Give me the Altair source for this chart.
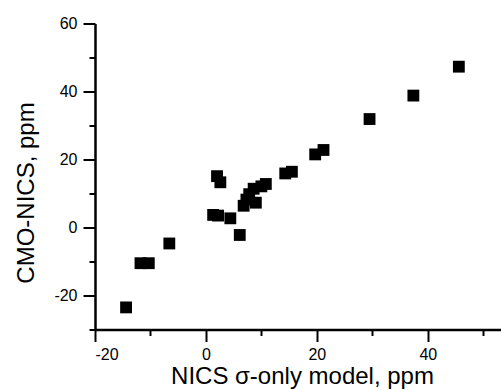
import altair as alt
import pandas as pd

# Data
x_vals = [-14.4, -11.8, -10.3, -6.6, 1.3, 2.2, 2.0, 2.6, 4.4, 6.1, 6.8, 7.3,
          7.8, 8.6, 9.0, 10.0, 10.8, 14.3, 15.5, 19.7, 21.2, 29.5, 37.4, 45.6]
y_vals = [-23.5, -10.5, -10.5, -4.7, 3.7, 3.5, 15.1, 13.3, 2.7, -2.2, 6.4, 8.2,
          9.8, 11.4, 7.3, 12.1, 12.8, 15.9, 16.4, 21.5, 22.8, 31.9, 38.8, 47.3]

x_major = [-20, 0, 20, 40]
x_minor = [-10, 10, 30, 50]
y_major = [-20, 0, 20, 40, 60]
y_minor = [-30, -10, 10, 30, 50]

df = pd.DataFrame({"x": x_vals, "y": y_vals})

W, H = 406, 306
FONT = "Liberation Sans"

xs = alt.Scale(domain=[-20, 53.2], nice=False, zero=False)
ys = alt.Scale(domain=[-30, 60], nice=False, zero=False)

common = dict(domainColor="black", tickColor="black", tickWidth=2,
              labelColor="black", titleColor="black", labelFont=FONT,
              titleFont=FONT, grid=False)

pts = alt.Chart(df).mark_square(size=140, color="black", opacity=1, filled=True).encode(
    x=alt.X("x:Q", scale=xs, axis=alt.Axis(
        orient="bottom", values=x_major, tickSize=12, domainWidth=2.5,
        labelFontSize=16, labelPadding=5, labelExpr="'' + datum.value",
        title="NICS σ-only model, ppm", titleFontSize=24, titleFontWeight="normal",
        titleBaseline="alphabetic", titleY=54, titleX=207, **common)),
    y=alt.Y("y:Q", scale=ys, axis=alt.Axis(
        orient="left", values=y_major, tickSize=12, domainWidth=2.5,
        labelFontSize=16, labelPadding=6, labelExpr="'' + datum.value",
        title="CMO-NICS, ppm", titleFontSize=24, titleFontWeight="normal",
        titleBaseline="alphabetic", titleX=-62, titleY=169, **common)),
)

minor = alt.Chart(df).mark_square(size=1, opacity=0).encode(
    x=alt.X("x:Q", scale=xs, axis=alt.Axis(
        orient="bottom", values=x_minor, tickSize=6, labels=False, domain=False,
        title=None, **common)),
    y=alt.Y("y:Q", scale=ys, axis=alt.Axis(
        orient="left", values=y_minor, tickSize=6, labels=False, domain=False,
        title=None, **common)),
)

chart = alt.layer(pts, minor).resolve_axis(
    x="independent", y="independent"
).properties(
    width=W, height=H,
    autosize=alt.AutoSizeParams(type="none"),
    padding={"left": 95, "top": 23.5, "right": 0, "bottom": 61},
    background="white",
).configure_view(stroke=None)

chart.save("out.html", embed_options={"renderer": "svg", "actions": False})
